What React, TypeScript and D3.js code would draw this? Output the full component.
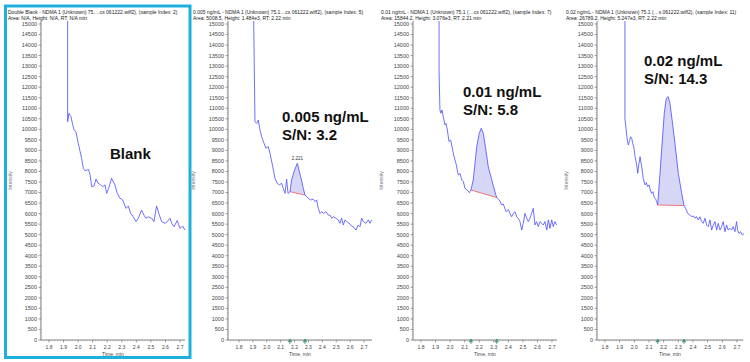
import React from 'react';
import * as d3 from 'd3';

// chromatogram traces (time in min, intensity in cps)
const blankTime = [1.928, 1.928, 1.937, 1.951, 1.963, 1.972, 1.985, 2.001, 2.024, 2.036, 2.047, 2.063, 2.072, 2.082, 2.093, 2.109, 2.123, 2.137, 2.155, 2.169, 2.185, 2.196, 2.21, 2.23, 2.253, 2.269, 2.288, 2.306, 2.329, 2.345, 2.361, 2.379, 2.398, 2.414, 2.436, 2.452, 2.466, 2.482, 2.505, 2.521, 2.539, 2.558, 2.574, 2.597, 2.613, 2.631, 2.643, 2.659, 2.681, 2.7, 2.718, 2.734];
const blankIntensity = [16500, 10360, 10760, 10600, 10210, 9970, 9890, 9340, 8620, 8150, 8040, 8070, 8100, 7830, 7280, 7310, 7640, 7440, 7360, 7280, 7360, 6960, 7200, 7670, 7360, 6960, 6730, 6650, 6250, 6360, 6010, 5850, 5620, 5780, 6170, 5930, 5780, 5850, 5780, 5620, 6360, 5930, 5620, 5540, 5620, 5780, 5540, 5380, 5670, 5300, 5410, 5220];

const low1Time = [1.903, 1.915, 1.927, 1.939, 1.951, 1.963, 1.98, 1.994, 2.011, 2.023, 2.043, 2.059, 2.076, 2.09, 2.107, 2.119, 2.131, 2.143, 2.153, 2.167, 2.179, 2.196, 2.22, 2.244, 2.263, 2.275, 2.299, 2.316, 2.335, 2.347, 2.359, 2.371, 2.383, 2.395, 2.407, 2.426, 2.443, 2.455, 2.467, 2.479, 2.498, 2.515, 2.527, 2.539, 2.551, 2.563, 2.575, 2.594, 2.611, 2.628, 2.642, 2.659, 2.671, 2.683, 2.695, 2.714, 2.731, 2.743, 2.755];
const low1Intensity = [16500, 10360, 10280, 10440, 9970, 9650, 9340, 9100, 9180, 8860, 8230, 7670, 7440, 7360, 7440, 7200, 6960, 7630, 6960, 7040, 7600, 7990, 8390, 7750, 7200, 6880, 6730, 6650, 6680, 6570, 6650, 6250, 6010, 6090, 6010, 6090, 5930, 5930, 5780, 5850, 5780, 5700, 5540, 5780, 5460, 5700, 5620, 5540, 5410, 5350, 5220, 5460, 5380, 5780, 5620, 5540, 5700, 5540, 5700];

const low2Time = [1.924, 1.924, 1.93, 1.937, 1.944, 1.953, 1.965, 1.972, 1.981, 1.992, 2.004, 2.015, 2.027, 2.04, 2.056, 2.068, 2.08, 2.091, 2.102, 2.118, 2.132, 2.143, 2.159, 2.183, 2.2, 2.214, 2.228, 2.246, 2.262, 2.286, 2.308, 2.32, 2.338, 2.354, 2.365, 2.384, 2.4, 2.411, 2.423, 2.434, 2.446, 2.457, 2.468, 2.48, 2.492, 2.503, 2.514, 2.526, 2.537, 2.549, 2.56, 2.571, 2.583, 2.594, 2.606, 2.617, 2.629, 2.64, 2.652, 2.664, 2.675, 2.686, 2.698, 2.709, 2.72, 2.732];
const low2Intensity = [16500, 12820, 10920, 10760, 10920, 10600, 10210, 10280, 9970, 9420, 9490, 9100, 8700, 8390, 7830, 7910, 7600, 7520, 7200, 7120, 6990, 7120, 7600, 9180, 9810, 10050, 9810, 9020, 8230, 7600, 7040, 6760, 6650, 6410, 6460, 6090, 6200, 6010, 5850, 6010, 6090, 5850, 5780, 5620, 5220, 5540, 6010, 5780, 5620, 5780, 6010, 6250, 5460, 5620, 5380, 5620, 5540, 5460, 5620, 5220, 5700, 5300, 5700, 5380, 5620, 5460];

const low3Time = [1.936, 1.936, 1.943, 1.952, 1.959, 1.966, 1.975, 1.982, 1.989, 1.998, 2.005, 2.016, 2.023, 2.032, 2.039, 2.05, 2.061, 2.073, 2.082, 2.091, 2.1, 2.109, 2.118, 2.127, 2.136, 2.146, 2.152, 2.159, 2.175, 2.191, 2.204, 2.218, 2.231, 2.243, 2.259, 2.277, 2.3, 2.323, 2.339, 2.35, 2.364, 2.379, 2.391, 2.402, 2.413, 2.425, 2.436, 2.448, 2.459, 2.47, 2.482, 2.493, 2.504, 2.516, 2.527, 2.539, 2.55, 2.561, 2.572, 2.584, 2.595, 2.606, 2.618, 2.629, 2.64, 2.652, 2.663, 2.674, 2.686, 2.697, 2.704, 2.713, 2.725, 2.736, 2.748];
const low3Intensity = [16500, 10520, 10050, 9490, 9260, 9420, 9650, 9570, 9340, 9100, 8700, 8310, 7910, 8390, 8700, 8230, 7670, 7360, 7470, 7280, 7360, 7120, 6960, 7040, 6770, 6680, 6570, 6410, 7910, 9490, 10760, 11470, 11550, 11230, 10360, 9340, 7910, 6960, 6380, 6250, 6010, 5930, 5850, 5890, 5780, 5850, 5700, 5850, 5620, 5540, 5780, 5460, 5380, 5700, 5220, 5460, 5620, 5220, 5540, 5220, 5380, 5620, 5140, 5460, 5220, 5300, 5220, 5380, 5140, 5620, 5220, 5060, 5140, 4980, 5060];

// integration windows [start, end] per panel (null = no peak)
const peakStart = [null, 2.167, 2.143, 2.159];
const peakEnd = [null, 2.275, 2.32, 2.339];
const peakLabel = [null, '2.221', null, null];

const headerLine1 = [
  'Double Blank - NDMA 1 (Unknown) 75.…cs 061222.wiff2), (sample Index: 2)',
  '0.005 ng/mL - NDMA 1 (Unknown) 75.1…cs 061222.wiff2), (sample Index: 5)',
  '0.01 ng/mL - NDMA 1 (Unknown) 75.1 (…cs 061222.wiff2), (sample Index: 7)',
  '0.02 ng/mL - NDMA 1 (Unknown) 75.1 (…s 061222.wiff2), (sample Index: 11)',
];
const headerLine2 = [
  'Area: N/A, Height: N/A, RT: N/A min',
  'Area: 5008.5, Height: 1.484e3, RT: 2.22 min',
  'Area: 15844.2, Height: 3.076e3, RT: 2.21 min',
  'Area: 26789.2, Height: 5.247e3, RT: 2.22 min',
];
const noteLine1 = ['Blank', '0.005 ng/mL', '0.01 ng/mL', '0.02 ng/mL'];
const noteLine2 = [null, 'S/N: 3.2', 'S/N: 5.8', 'S/N: 14.3'];

const xTicks = [1.8, 1.9, 2.0, 2.1, 2.2, 2.3, 2.4, 2.5, 2.6, 2.7];
const yTicks = d3.range(0, 15001, 500);

const traces = [
  { time: blankTime, intensity: blankIntensity },
  { time: low1Time, intensity: low1Intensity },
  { time: low2Time, intensity: low2Intensity },
  { time: low3Time, intensity: low3Intensity },
];

// screen layout of each panel: pixel of 1.8 / 2.7 ticks and axis ends
const layout = [
  { headerX: 8, x18: 49, x27: 180, left: 41, right: 185, titleX: 12, noteX: 110, noteY: 159 },
  { headerX: 193, x18: 239, x27: 364, left: 228, right: 372, titleX: 195, noteX: 282, noteY: 122 },
  { headerX: 381, x18: 421, x27: 552, left: 413, right: 557, titleX: 383, noteX: 463, noteY: 97 },
  { headerX: 566, x18: 605, x27: 737, left: 597, right: 743, titleX: 568, noteX: 644, noteY: 66 },
];

const FONT = 'Liberation Sans, Arial, sans-serif';
const LINE = '#4b4bff';
const PLOT_TOP = 21;
const PLOT_BOTTOM = 340;

const y = d3.scaleLinear().domain([0, 15000]).range([PLOT_BOTTOM, 24]);

function Panel({ idx }: { idx: number }) {
  const L = layout[idx];
  const tr = traces[idx];
  const x = d3.scaleLinear().domain([1.8, 2.7]).range([L.x18, L.x27]);
  const pts: [number, number][] = tr.time.map((t, i) => [t, tr.intensity[i]]);

  const line = d3.line<[number, number]>().x(d => x(d[0])).y(d => y(d[1]));

  const s = peakStart[idx];
  const e = peakEnd[idx];
  let peakArea = null;
  if (s != null && e != null) {
    const inPeak = pts.filter(d => d[0] >= s - 1e-6 && d[0] <= e + 1e-6);
    const vs = inPeak[0][1];
    const ve = inPeak[inPeak.length - 1][1];
    const base = d3.scaleLinear().domain([s, e]).range([vs, ve]);
    const area = d3.area<[number, number]>()
      .x(d => x(d[0]))
      .y0(d => y(base(d[0])))
      .y1(d => y(d[1]));
    peakArea = (
      <g>
        <path d={area(inPeak) || ''} fill="#d6d6f7" stroke="none" />
        <line x1={x(s)} x2={x(e)} y1={y(vs)} y2={y(ve)} stroke="#f26a6a" strokeWidth={0.9} />
      </g>
    );
  }

  const apex = pts.reduce((m, d) => (d[0] > 2.1 && d[0] < 2.35 && d[1] > m[1] ? d : m), [0, 0] as [number, number]);
  const xMin = x.invert(L.left);
  const xMax = x.invert(L.right);
  const minorX = d3.range(Math.ceil(xMin * 50) / 50, xMax, 0.02);
  const minorY = d3.range(0, 15001, 100);
  const clipId = `clip${idx}`;
  const midX = (L.left + L.right) / 2;

  return (
    <g fontFamily={FONT}>
      <defs>
        <clipPath id={clipId}>
          <rect x={L.left} y={PLOT_TOP} width={L.right - L.left + 3} height={PLOT_BOTTOM - PLOT_TOP} />
        </clipPath>
      </defs>

      <text x={L.headerX} y={14} fontSize={5} fill="#222">{headerLine1[idx]}</text>
      <text x={L.headerX} y={19.5} fontSize={5} fill="#222">{headerLine2[idx]}</text>

      {/* y axis */}
      <line x1={L.left} x2={L.left} y1={PLOT_TOP} y2={PLOT_BOTTOM} stroke="#666" strokeWidth={0.8} />
      {minorY.map(v => (
        <line key={'my' + v} x1={L.left - 1.2} x2={L.left} y1={y(v)} y2={y(v)} stroke="#888" strokeWidth={0.5} />
      ))}
      {yTicks.map(v => (
        <g key={'y' + v}>
          <line x1={L.left - 2.5} x2={L.left} y1={y(v)} y2={y(v)} stroke="#666" strokeWidth={0.6} />
          <text x={L.left - 4} y={y(v)} dy="0.35em" fontSize={5.5} textAnchor="end" fill="#444">{v}</text>
        </g>
      ))}
      <text
        transform={`translate(${L.titleX},${(PLOT_TOP + PLOT_BOTTOM) / 2}) rotate(-90)`}
        fontSize={5} textAnchor="middle" fill="#777"
      >Intensity</text>

      {/* x axis */}
      <line x1={L.left} x2={L.right} y1={PLOT_BOTTOM} y2={PLOT_BOTTOM} stroke="#666" strokeWidth={0.8} />
      {minorX.map(t => (
        <line key={'mx' + t} x1={x(t)} x2={x(t)} y1={PLOT_BOTTOM} y2={PLOT_BOTTOM + 1.2} stroke="#888" strokeWidth={0.5} />
      ))}
      {xTicks.map(t => (
        <g key={'x' + t}>
          <line x1={x(t)} x2={x(t)} y1={PLOT_BOTTOM} y2={PLOT_BOTTOM + 2.5} stroke="#666" strokeWidth={0.6} />
          <text x={x(t)} y={PLOT_BOTTOM + 9} fontSize={5} textAnchor="middle" fill="#444">{d3.format('.1f')(t)}</text>
        </g>
      ))}
      <text x={midX} y={PLOT_BOTTOM + 15.5} fontSize={5} textAnchor="middle" fill="#444">Time, min</text>

      {/* trace */}
      <g clipPath={`url(#${clipId})`}>
        {peakArea}
        <path d={line(pts) || ''} fill="none" stroke={LINE} strokeWidth={0.8} />
      </g>

      {peakLabel[idx] && (
        <text x={x(apex[0])} y={y(apex[1]) - 3} fontSize={4.5} textAnchor="middle" fill="#333">{peakLabel[idx]}</text>
      )}

      {/* integration markers */}
      {s != null && e != null && [s, e].map(t => (
        <g key={'pm' + t} transform={`translate(${x(t)},${PLOT_BOTTOM + 2})`}>
          <line x1={0} x2={0} y1={-3} y2={2} stroke="#2f7f6a" strokeWidth={0.7} />
          <path d="M-1.8,0 L0,-3 L1.8,0 Z" fill="#3fae8c" stroke="#2f6f5f" strokeWidth={0.4} />
        </g>
      ))}

      <text x={L.noteX} y={L.noteY} fontSize={15} fontWeight="bold" fill="#111">{noteLine1[idx]}</text>
      {noteLine2[idx] && (
        <text x={L.noteX} y={L.noteY + 18} fontSize={15} fontWeight="bold" fill="#111">{noteLine2[idx]}</text>
      )}
    </g>
  );
}

export default function App() {
  return (
    <svg
      width={750}
      height={362}
      style={{ position: 'absolute', left: 0, top: 0, background: '#fff' }}
    >
      <rect x={0} y={0} width={750} height={362} fill="#fff" />
      {traces.map((_, i) => <Panel key={i} idx={i} />)}
      <rect x={5.5} y={6} width={184.5} height={351.5} fill="none" stroke="#1cb0da" strokeWidth={3} />
    </svg>
  );
}
